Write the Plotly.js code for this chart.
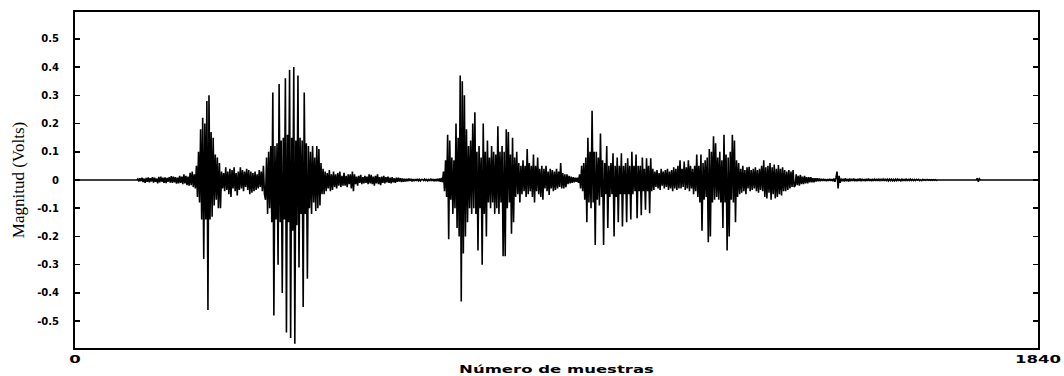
<!DOCTYPE html>
<html>
<head>
<meta charset="utf-8">
<script src="https://cdn.plot.ly/plotly-3.0.1.min.js"></script>
<style>html,body{margin:0;padding:0;background:#fff;}#chart{width:1064px;height:376px;}</style>
</head>
<body>
<div id="chart"></div>
<script>
// Sample spacing of the digitised waveform (in samples)
const pasoMuestras = 2;

// Waveform values (Volts)
const silencioInicial = [0,0,0,0,0,0,0,0,0,0, 0,0,0,0,0,0,0,0,0,0, 0,0,0,0,0,0,0,0,0,0,
  0,0,0,0,0,0,0,0,0,0, 0,0,0,0,0,0,0,0,0,0, 0,0,0,0,0,0,0,0,0,0];
const ruidoInicial = [0.004,-0.005,0.006,-0.004,0.008,-0.007,0.005,-0.01,0.007,-0.006,
  0.009,-0.008,0.006,-0.005,0.01,-0.009,0.008,-0.006,0.005,-0.012,
  0.011,-0.008,0.012,-0.006,0.008,-0.01,0.009,-0.011,0.007,-0.006,
  0.01,-0.009,0.014,-0.01,0.012,-0.008,0.01,-0.013,0.008,-0.012,
  0.015,-0.01,0.012,-0.015,0.02,-0.012,0.015,-0.018,0.012,-0.02,
  0.025,-0.018,0.03,-0.025,0.02,-0.03];
const rafaga1 = [0.05,-0.06,0.1,-0.08,0.18,-0.14,0.22,-0.28,0.2,-0.14,
  0.28,-0.46,0.30,-0.14,0.17,-0.13,0.15,-0.09,0.09,-0.07,
  0.08,-0.1,0.06,-0.1];
const ruido2 = [0.03,-0.03,0.025,-0.04,0.045,-0.035,0.03,-0.05,0.04,-0.06,
  0.035,-0.03,0.045,-0.04,0.025,-0.055,0.03,-0.035,0.045,-0.03,
  0.035,-0.04,0.03,-0.025,0.04,-0.035,0.035,-0.05,0.03,-0.045,
  0.025,-0.04,0.03,-0.035,0.02,-0.03,0.035,-0.025,0.03,-0.04,
  0.05,-0.05];
const rafaga2 = [-0.07,0.08,-0.12,0.1,-0.1,0.12,-0.15,0.31,-0.48,0.12,
  -0.14,0.13,-0.3,0.34,-0.15,0.14,-0.4,0.15,-0.14,0.36,
  -0.54,0.16,-0.15,0.39,-0.56,0.15,-0.18,0.40,-0.58,0.14,
  -0.16,0.37,-0.31,0.15,-0.12,0.14,-0.45,0.31,-0.12,0.13,
  -0.35,0.12,-0.1,0.1,-0.12,0.12,-0.08,0.08,-0.11,0.12,
  -0.1,0.11,-0.09,0.06,-0.05,0.04];
const ruido3 = [-0.05,0.03,-0.04,0.025,-0.03,0.035,-0.04,0.02,-0.035,0.03,
  -0.025,0.02,-0.03,0.025,-0.02,0.03,-0.025,0.015,-0.02,0.025,
  -0.02,0.015,-0.025,0.02,-0.015,0.02,-0.03,0.03,-0.04,0.02,
  -0.015,0.012,-0.02,0.015,-0.01,0.018,-0.015,0.01,-0.012,0.015,
  -0.01,0.012,-0.015,0.02,-0.012,0.018,-0.015,0.012,-0.02,0.015,
  -0.012,0.02,-0.015,0.01,-0.018,0.012,-0.01,0.015,-0.012,0.01,
  -0.008,0.012,-0.01,0.008,-0.012,0.01,-0.008,0.006,-0.01,0.008,
  -0.006,0.008,-0.005,0.006,-0.007,0.005,-0.006,0.004,-0.005,0.004,
  -0.004,0.005,-0.003,0.004,-0.005,0.003,-0.004,0.003,-0.003,0.004,
  -0.003,0.002,-0.003,0.002];
const pausa = [0.002,-0.002,0.003,-0.002,0.002,-0.003,0.002,-0.002,0.003,-0.002,
  0.002,-0.003,0.003,-0.004,0.004,-0.004,0.005,-0.006,0.007,-0.008];
const rafaga3 = [0.03,-0.04,0.07,-0.06,0.16,-0.21,0.14,-0.07,0.08,-0.12,
  0.07,-0.1,0.2,-0.17,0.15,-0.2,0.37,-0.43,0.35,-0.26,
  0.3,-0.2,0.18,-0.15,0.12,-0.1,0.14,-0.12,0.2,-0.1,
  0.24,-0.12,0.1,-0.25,0.12,-0.1,0.08,-0.30,0.2,-0.12,
  0.1,-0.2,0.14,-0.08,0.08,-0.1,0.12,-0.08,0.1,-0.12,
  0.09,-0.1,0.19,-0.12,0.1,-0.08,0.12,-0.27,0.1,-0.27,
  0.18,-0.1,0.17,-0.08,0.09,-0.19,0.15,-0.15,0.08,-0.06,
  0.1,-0.05,0.06,-0.08,0.05,-0.05,0.07,-0.04,0.05,-0.06,
  0.11,-0.05,0.06,-0.04,0.05,-0.06,0.09,-0.08,0.05,-0.04,
  0.08,-0.05,0.04,-0.06,0.05,-0.07,0.04,-0.03,0.05,-0.04,
  0.03,-0.053,0.04,-0.03,0.035,-0.04,0.03,-0.035,0.04,-0.03,
  0.03,-0.025,0.06,-0.03,0.025,-0.03,0.02,-0.025,0.02,-0.015,
  0.015,-0.012,0.012,-0.01,0.01,-0.008,0.008,-0.006,0.008,-0.01];
const rafaga4 = [0.02,-0.03,0.05,-0.04,0.06,-0.07,0.08,-0.15,0.15,-0.08,
  0.1,-0.1,0.245,-0.08,0.1,-0.23,0.1,-0.07,0.08,-0.09,
  0.165,-0.06,0.07,-0.23,0.06,-0.05,0.12,-0.17,0.05,-0.06,
  0.06,-0.05,0.095,-0.2,0.05,-0.06,0.08,-0.15,0.05,-0.05,
  0.095,-0.165,0.05,-0.05,0.06,-0.15,0.077,-0.05,0.05,-0.14,
  0.1,-0.05,0.05,-0.04,0.09,-0.135,0.05,-0.04,0.05,-0.125,
  0.08,-0.04,0.04,-0.105,0.077,-0.04,0.05,-0.118,0.077,-0.04,
  0.04,-0.035];
const ruido4 = [0.03,-0.025,0.035,-0.03,0.025,-0.035,0.04,-0.02,0.03,-0.03,
  0.035,-0.025,0.04,-0.035,0.03,-0.03,0.035,-0.04,0.045,-0.03,
  0.04,-0.035,0.05,-0.03,0.07,-0.03,0.04,-0.025,0.065,-0.035,
  0.045,-0.03,0.07,-0.04,0.05,-0.03,0.04,-0.05,0.05,-0.04];
const rafaga5 = [0.09,-0.06,0.05,-0.08,0.09,-0.18,0.06,-0.07,0.07,-0.06,
  0.08,-0.22,0.11,-0.2,0.1,-0.08,0.155,-0.07,0.13,-0.06,
  0.08,-0.07,0.1,-0.08,0.07,-0.17,0.16,-0.08,0.09,-0.25,
  0.08,-0.2,0.1,-0.07,0.16,-0.08,0.14,-0.15,0.07,-0.06];
const cola5 = [0.06,-0.05,0.04,-0.045,0.05,-0.04,0.035,-0.05,0.045,-0.03,
  0.047,-0.04,0.035,-0.035,0.04,-0.03,0.045,-0.04,0.035,-0.045,
  0.04,-0.035,0.05,-0.04,0.07,-0.06,0.045,-0.065,0.05,-0.045,
  0.06,-0.07,0.045,-0.05,0.055,-0.065,0.04,-0.06,0.053,-0.05,
  0.04,-0.055,0.045,-0.04,0.035,-0.04,0.03,-0.035,0.035,-0.03,
  0.03,-0.025,0.035,-0.025];
const decaimiento = [-0.02,0.02,-0.018,0.015,-0.02,0.018,-0.015,0.012,-0.015,0.015,
  -0.012,0.01,-0.012,0.01,-0.008,0.01,-0.008,0.006,-0.008,0.006,
  -0.005,0.006,-0.004,0.005,-0.004,0.004,-0.003,0.004,-0.003,0.003,
  -0.004,0.003,-0.003,0.004,-0.003,0.003,-0.004,0.005,-0.006,0.008];
const chasquido = [0.03,-0.03,0.015,-0.01];
const residuo = [0.005,-0.004,0.004,-0.005,0.006,-0.004,0.003,-0.005,0.005,-0.004,
  0.004,-0.003,0.005,-0.004,0.003,-0.004,0.004,-0.003,0.005,-0.004,
  0.004,-0.003,0.003,-0.004,0.004,-0.003,0.005,-0.003,0.003,-0.004,
  0.004,-0.003,0.003,-0.003,0.004,-0.003,0.003,-0.002,0.004,-0.003,
  0.003,-0.003,0.004,-0.002,0.003,-0.003,0.003,-0.002,0.003,-0.003,
  0.002,-0.003,0.003,-0.002,0.003,-0.002,0.002,-0.003,0.003,-0.002,
  0.002,-0.002,0.003,-0.002,0.002,-0.002,0.003,-0.002,0.002,-0.002,
  0.002,-0.002,0.002,-0.001,0.002,-0.002,0.001,-0.002,0.002,-0.001,
  0.001,-0.001,0.002,-0.001,0.001,-0.001,0.001,-0.001,0.001,-0.001,
  0.001,-0.001,0,0];
const silencioFinal = [0,0,0,0,0,0,0,0,0,0, 0,0,0,0,0,0,0,0,0,0, 0,0,0,0,0,0,0,0,0,0,
  0,0,0,0,0,0,0.006,-0.006,0.004,0, 0,0,0,0,0,0,0,0,0,0, 0,0,0,0,0,0,0,0,0,0,
  0,0,0,0,0,0,0,0,0,0, 0,0,0,0,0,0,0,0,0,0, 0,0,0,0,0,0,0,0,0,0, 0,0,0,0,0,0];

// Axis ticks
const yTickVals = [0.5,0.4,0.3,0.2,0.1,0,-0.1,-0.2,-0.3,-0.4,-0.5];
const yTickText = ['0.5','0.4','0.3','0.2','0.1','0','-0.1','-0.2','-0.3','-0.4','-0.5'];
const xTickVals = [0, 1840];
const xTickText = ['0', '1840'];

const magnitud = [].concat(silencioInicial, ruidoInicial, rafaga1, ruido2, rafaga2,
  ruido3, pausa, rafaga3, rafaga4, ruido4, rafaga5, cola5, decaimiento,
  chasquido, residuo, silencioFinal);

const trace = {
  type: 'scatter', mode: 'lines',
  x0: 0, dx: pasoMuestras, y: magnitud,
  line: {color: '#000', width: 1.6, simplify: false},
  hoverinfo: 'skip'
};

const tickFont = {family: 'DejaVu Sans', size: 10, weight: 'bold', color: '#000'};

const layout = {
  width: 1064, height: 376,
  paper_bgcolor: '#fff', plot_bgcolor: '#fff',
  margin: {l: 75, r: 26, t: 12, b: 28},
  showlegend: false,
  xaxis: {
    range: [0, 1840], showgrid: false, zeroline: false,
    showline: true, linecolor: '#000', linewidth: 2, mirror: true,
    ticks: '', tickvals: xTickVals, ticktext: xTickText,
    tickfont: {family: 'DejaVu Sans', size: 11, weight: 'bold', color: '#000'},
    title: {text: 'Número de muestras', standoff: 2,
      font: {family: 'DejaVu Sans', size: 11, weight: 'bold', color: '#000'}}
  },
  yaxis: {
    range: [-0.595, 0.595], showgrid: false, zeroline: false,
    showline: true, linecolor: '#000', linewidth: 2, mirror: 'ticks',
    ticks: 'inside', ticklen: 5, tickwidth: 1.5, tickcolor: '#000',
    tickvals: yTickVals, ticktext: yTickText, ticklabelstandoff: 12,
    tickfont: tickFont,
    title: {text: 'Magnitud (Volts)', standoff: 8,
      font: {family: 'Liberation Serif', size: 17, color: '#000'}}
  }
};

Plotly.newPlot('chart', [trace], layout, {staticPlot: true, displayModeBar: false}).then(function (gd) {
  // The scanned reference has horizontally stretched x-axis lettering
  const stretch = 1.5;
  gd.querySelectorAll('.xtick text').forEach(function (t) {
    const tr = t.getAttribute('transform') || '';
    t.setAttribute('transform', tr + ' scale(' + stretch + ',1)');
  });
  const xt = gd.querySelector('.xtitle');
  if (xt) {
    const cx = parseFloat(xt.getAttribute('x')) || 0;
    xt.setAttribute('transform', 'translate(' + cx + ',0) scale(' + stretch + ',1) translate(' + (-cx) + ',0)');
  }
});
</script>
</body>
</html>
